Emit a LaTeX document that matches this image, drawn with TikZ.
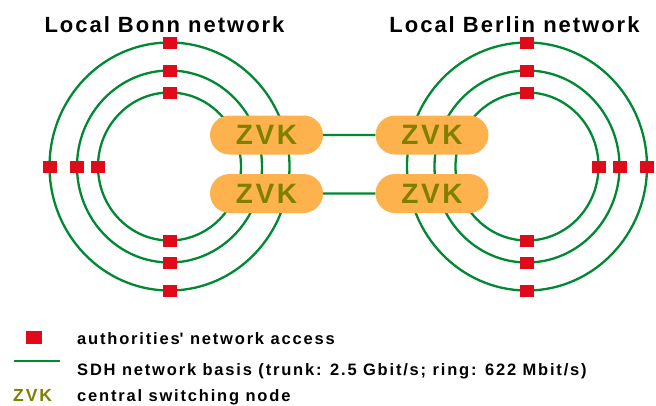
\documentclass[tikz,border=0pt]{standalone}
\usepackage{fontspec}
\setmainfont{Liberation Sans}
\newfontfamily\spaced{Liberation Sans}[LetterSpace=9]
\newfontfamily\keyfont{Liberation Sans}[LetterSpace=11]
\usetikzlibrary{shapes.misc}

\definecolor{ringgreen}{RGB}{0,136,51}
\definecolor{accessred}{RGB}{224,10,26}
\definecolor{zvkorange}{RGB}{253,178,78}
\definecolor{zvkolive}{RGB}{128,128,0}

\begin{document}
\begin{tikzpicture}[x=1pt,y=-1pt,
	ring/.style = {draw=ringgreen,line width=2.3pt},
	access/.style = {fill=accessred,minimum width=14pt,minimum height=12pt,inner sep=0pt},
	zvk/.style = {fill=zvkorange,rounded rectangle,minimum width=113pt,minimum height=39pt,inner sep=0pt,text=zvkolive,font=\spaced\bfseries\fontsize{28}{30}\selectfont},
	title/.style = {anchor=base,inner sep=0pt,font=\spaced\bfseries\fontsize{22}{26}\selectfont},
	legend/.style = {anchor=base west,inner sep=0pt,font=\keyfont\bfseries\fontsize{16.5}{20}\selectfont}]
	\useasboundingbox (0,0) rectangle (656,405);

	\node[title] (bonn) at (164.5,32) {Local Bonn network};
	\node[title] (berlin) at (514.5,32) {Local Berlin network};

	\draw[ring] (169.5,166.5) ellipse [x radius=120pt,y radius=124pt];
	\draw[ring] (169.5,166.5) ellipse [x radius=92.5pt,y radius=96pt];
	\draw[ring] (169.5,166.5) ellipse [x radius=71.5pt,y radius=74pt];
	\draw[ring] (527,166.5) ellipse [x radius=120pt,y radius=124pt];
	\draw[ring] (527,166.5) ellipse [x radius=92.5pt,y radius=96pt];
	\draw[ring] (527,166.5) ellipse [x radius=71.5pt,y radius=74pt];

	\node[access] (BnT1) at (169.5,42.5) {};
	\node[access] (BnT2) at (169.5,70.5) {};
	\node[access] (BnT3) at (169.5,92.5) {};
	\node[access] (BnL1) at (49.5,167) {};
	\node[access] (BnL2) at (77,167) {};
	\node[access] (BnL3) at (98,167) {};
	\node[access] (BnB1) at (169.5,290.5) {};
	\node[access] (BnB2) at (169.5,262.5) {};
	\node[access] (BnB3) at (169.5,240.5) {};

	\node[access] (BeT1) at (527,42.5) {};
	\node[access] (BeT2) at (527,70.5) {};
	\node[access] (BeT3) at (527,92.5) {};
	\node[access] (BeR1) at (647,167) {};
	\node[access] (BeR2) at (619.5,167) {};
	\node[access] (BeR3) at (598.5,167) {};
	\node[access] (BeB1) at (527,290.5) {};
	\node[access] (BeB2) at (527,262.5) {};
	\node[access] (BeB3) at (527,240.5) {};

	\node[zvk] (ZA) at (266.5,135) {ZVK};
	\node[zvk] (ZB) at (266.5,193.5) {ZVK};
	\node[zvk] (ZC) at (432,135) {ZVK};
	\node[zvk] (ZD) at (432,193.5) {ZVK};

	\draw[ring] (ZA) -- (ZC);
	\draw[ring] (ZB) -- (ZD);

	\node[access,minimum width=16pt,minimum height=13pt] (keyA) at (34,337.5) {};
	\node[legend] (keyAtext) at (77,344) {authorities\textquotesingle{} network access};
	\coordinate (keyL) at (14,361);
	\coordinate (keyR) at (60,361);
	\draw[ring] (keyL) -- (keyR);
	\node[legend] (keyBtext) at (77,375) {SDH network basis (trunk: 2.5 Gbit/s; ring: 622 Mbit/s)};
	\node[legend,text=zvkolive,font=\keyfont\bfseries\fontsize{17.5}{20}\selectfont] (keyC) at (13,401) {ZVK};
	\node[legend] (keyCtext) at (77,401) {central switching node};
\end{tikzpicture}
\end{document}
